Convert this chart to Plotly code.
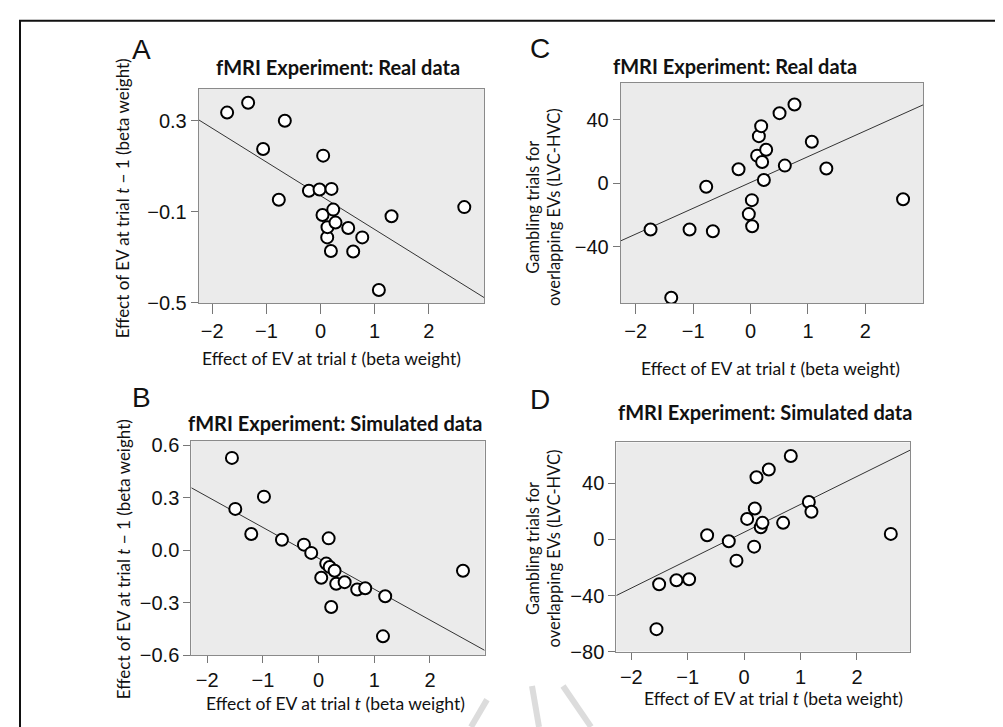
import plotly.graph_objects as go

# ---------------- data ----------------
# Panel A: real data, effect at t vs effect at t-1
a_x = [-1.725, -1.337, -1.06, -0.77, -0.659, -0.214, -0.018, 0.037, 0.049, 0.124, 0.129,
       0.192, 0.203, 0.235, 0.277, 0.512, 0.604, 0.771, 1.078, 1.312, 2.656]
a_y = [0.336, 0.379, 0.176, -0.047, 0.300, -0.007, -0.002, -0.114, 0.147, -0.212, -0.167,
       -0.272, 0.001, -0.090, -0.147, -0.171, -0.274, -0.212, -0.443, -0.119, -0.079]
a_fit = [-0.029, -0.148]          # intercept, slope

# Panel B: simulated data
b_x = [-1.557, -1.497, -1.21, -0.982, -0.659, -0.264, -0.133, 0.047, 0.137, 0.18,
       0.198, 0.226, 0.287, 0.316, 0.467, 0.693, 0.837, 1.156, 1.196, 2.593]
b_y = [0.527, 0.236, 0.093, 0.306, 0.060, 0.032, -0.015, -0.157, -0.076, 0.068,
       -0.095, -0.324, -0.117, -0.191, -0.182, -0.224, -0.217, -0.491, -0.262, -0.117]
b_fit = [-0.046, -0.176]

# Panel C: real data, gambling trials
c_x = [-1.741, -1.381, -1.062, -0.772, -0.656, -0.209, -0.03, 0.023, 0.028, 0.115, 0.145,
       0.185, 0.202, 0.232, 0.272, 0.505, 0.597, 0.765, 1.067, 1.32, 2.656]
c_y = [-29.1, -72.2, -29.1, -2.1, -30.2, 8.9, -19.4, -10.6, -27.1, 17.5, 29.8,
       36.1, 13.5, 2.1, 21.2, 44.3, 11.2, 49.8, 26.3, 9.4, -10.0]
c_fit = [0.56, 16.3]

# Panel D: simulated data, gambling trials
d_x = [-1.554, -1.507, -1.2, -0.975, -0.656, -0.272, -0.136, 0.053, 0.177, 0.189,
       0.219, 0.295, 0.325, 0.437, 0.691, 0.827, 1.147, 1.193, 2.60]
d_y = [-64.0, -31.9, -29.1, -28.4, 3.0, -1.2, -15.1, 14.7, -5.1, 22.1,
       44.4, 8.8, 11.9, 50.0, 11.9, 59.6, 26.8, 19.8, 4.0]
d_fit = [5.16, 19.93]

x_ticks = [-2, -1, 0, 1, 2]
x_ticktext = ["\u22122", "\u22121", "0", "1", "2"]
a_yticks = [0.3, -0.1, -0.5]
a_yticktext = ["0.3", "\u22120.1", "\u22120.5"]
b_yticks = [0.6, 0.3, 0.0, -0.3, -0.6]
b_yticktext = ["0.6", "0.3", "0.0", "\u22120.3", "\u22120.6"]
c_yticks = [40, 0, -40]
c_yticktext = ["40", "0", "\u221240"]
d_yticks = [40, 0, -40, -80]
d_yticktext = ["40", "0", "\u221240", "\u221280"]

panel_letters = ["A", "B", "C", "D"]
title_real = "fMRI Experiment: Real data"
title_sim = "fMRI Experiment: Simulated data"
xlab = "Effect of EV at trial <i>t</i> (beta weight)"
ylab_ab = "Effect of EV at trial <i>t</i> \u2212 1 (beta weight)"
ylab_cd = "Gambling trials for<br>overlapping EVs (LVC-HVC)"

# ---------------- layout helpers ----------------
W, H = 1003, 727
def px(x):
    return x / W
def py(y):
    return 1 - y / H

TICK_FONT = dict(family="Liberation Sans, Arial, sans-serif", size=20, color="#111")
LAB_FONT = dict(family="Lato, Open Sans, sans-serif", size=17.5, color="#111")
YLAB_FONT = dict(family="Lato, Open Sans, sans-serif", size=17, color="#111")
CDLAB_FONT = dict(family="Lato, Open Sans, sans-serif", size=16.5, color="#111")
TITLE_FONT = dict(family="Lato, Open Sans, sans-serif", size=20, color="#111")
LETTER_FONT = dict(family="Liberation Sans, Arial, sans-serif", size=28, color="#111")

panels = [
    # name, xs, ys, fit, dom(px l,r,t,b), xrange, yrange, yticks, yticktext, x ticklen
    ("1", a_x, a_y, a_fit, (190.7, 476, 76, 295.3), [-2.25, 3.02], [-0.5, 0.439], a_yticks, a_yticktext, 10),
    ("2", b_x, b_y, b_fit, (183.3, 476.7, 436.7, 656.7), [-2.287, 2.983], [-0.6, 0.624], b_yticks, b_yticktext, 7),
    ("3", c_x, c_y, c_fit, (612.7, 915, 69.3, 295.3), [-2.261, 3.003], [-75.5, 63.6], c_yticks, c_yticktext, 10),
    ("4", d_x, d_y, d_fit, (608.3, 902, 438.3, 652.7), [-2.266, 2.94], [-80, 69.3], d_yticks, d_yticktext, 7),
]

fig = go.Figure()
layout_axes = {}
for name, xs, ys, fit, dom, xr, yr, yt, ytt, xtl in panels:
    xa = "x" if name == "1" else "x" + name
    ya = "y" if name == "1" else "y" + name
    # regression line across the x range
    lx = [xr[0], xr[1]]
    ly = [fit[0] + fit[1] * v for v in lx]
    fig.add_trace(go.Scatter(x=lx, y=ly, mode="lines", line=dict(color="#333", width=1),
                             xaxis=xa, yaxis=ya, showlegend=False, hoverinfo="skip"))
    fig.add_trace(go.Scatter(x=xs, y=ys, mode="markers",
                             marker=dict(symbol="circle", size=12, color="white",
                                         line=dict(color="black", width=2)),
                             xaxis=xa, yaxis=ya, showlegend=False))
    l, r, t, b = dom
    common = dict(showline=True, linecolor="#8a8a8a", linewidth=1, mirror=True,
                  ticks="outside", tickcolor="#777", tickwidth=1,
                  showgrid=False, zeroline=False, tickfont=TICK_FONT, fixedrange=True)
    layout_axes["xaxis" if name == "1" else "xaxis" + name] = dict(
        domain=[px(l), px(r)], range=xr, tickvals=x_ticks, ticktext=x_ticktext,
        anchor=ya, ticklen=xtl, **common)
    layout_axes["yaxis" if name == "1" else "yaxis" + name] = dict(
        domain=[py(b), py(t)], range=yr, tickvals=yt, ticktext=ytt,
        anchor=xa, ticklen=7, **common)

annotations = []
def ann(text, x, y, font, angle=0):
    annotations.append(dict(text=text, x=px(x), y=py(y), xref="paper", yref="paper",
                            showarrow=False, font=font, textangle=angle,
                            xanchor="center", yanchor="middle"))

# panel letters
ann(panel_letters[0], 133, 35, LETTER_FONT)
ann(panel_letters[1], 133, 392, LETTER_FONT)
ann(panel_letters[2], 532, 34, LETTER_FONT)
ann(panel_letters[3], 532, 394, LETTER_FONT)
# titles
ann("<b>" + title_real + "</b>", 330, 53, TITLE_FONT)
ann("<b>" + title_sim + "</b>", 327, 418, TITLE_FONT)
ann("<b>" + title_real + "</b>", 727, 52, TITLE_FONT)
ann("<b>" + title_sim + "</b>", 757, 407, TITLE_FONT)
# x titles
ann(xlab, 323, 352, LAB_FONT)
ann(xlab, 327, 706, LAB_FONT)
ann(xlab, 762, 362, LAB_FONT)
ann(xlab, 765, 701, LAB_FONT)
# y titles
ann(ylab_ab, 114, 188, YLAB_FONT, -90)
ann(ylab_ab, 115, 558, YLAB_FONT, -90)
ann(ylab_cd, 535, 197, CDLAB_FONT, -90)
ann(ylab_cd, 535, 547, CDLAB_FONT, -90)

shapes = []
for name, xs, ys, fit, dom, xr, yr, yt, ytt, xtl in panels:
    l, r, t, b = dom
    shapes.append(dict(type="rect", xref="paper", yref="paper", x0=px(l), x1=px(r),
                       y0=py(b), y1=py(t), fillcolor="#ebebeb", line=dict(width=0),
                       layer="below"))
# outer frame
shapes.append(dict(type="rect", xref="paper", yref="paper", x0=px(12), x1=px(998),
                   y0=py(745), y1=py(6), line=dict(color="#111", width=2), fillcolor="rgba(0,0,0,0)"))
# faint watermark strokes
shapes.append(dict(type="line", xref="paper", yref="paper", x0=px(463), y0=py(730),
                   x1=px(479), y1=py(702), line=dict(color="#dcdcdc", width=6)))
shapes.append(dict(type="line", xref="paper", yref="paper", x0=px(524), y0=py(688),
                   x1=px(531), y1=py(730), line=dict(color="#dcdcdc", width=6)))
shapes.append(dict(type="line", xref="paper", yref="paper", x0=px(555), y0=py(688),
                   x1=px(583), y1=py(730), line=dict(color="#dcdcdc", width=6)))

fig.update_layout(width=W, height=H, autosize=False,
                  margin=dict(l=0, r=0, t=0, b=0),
                  paper_bgcolor="white", plot_bgcolor="rgba(0,0,0,0)",
                  annotations=annotations, shapes=shapes, **layout_axes)

fig.write_html("out.html")
